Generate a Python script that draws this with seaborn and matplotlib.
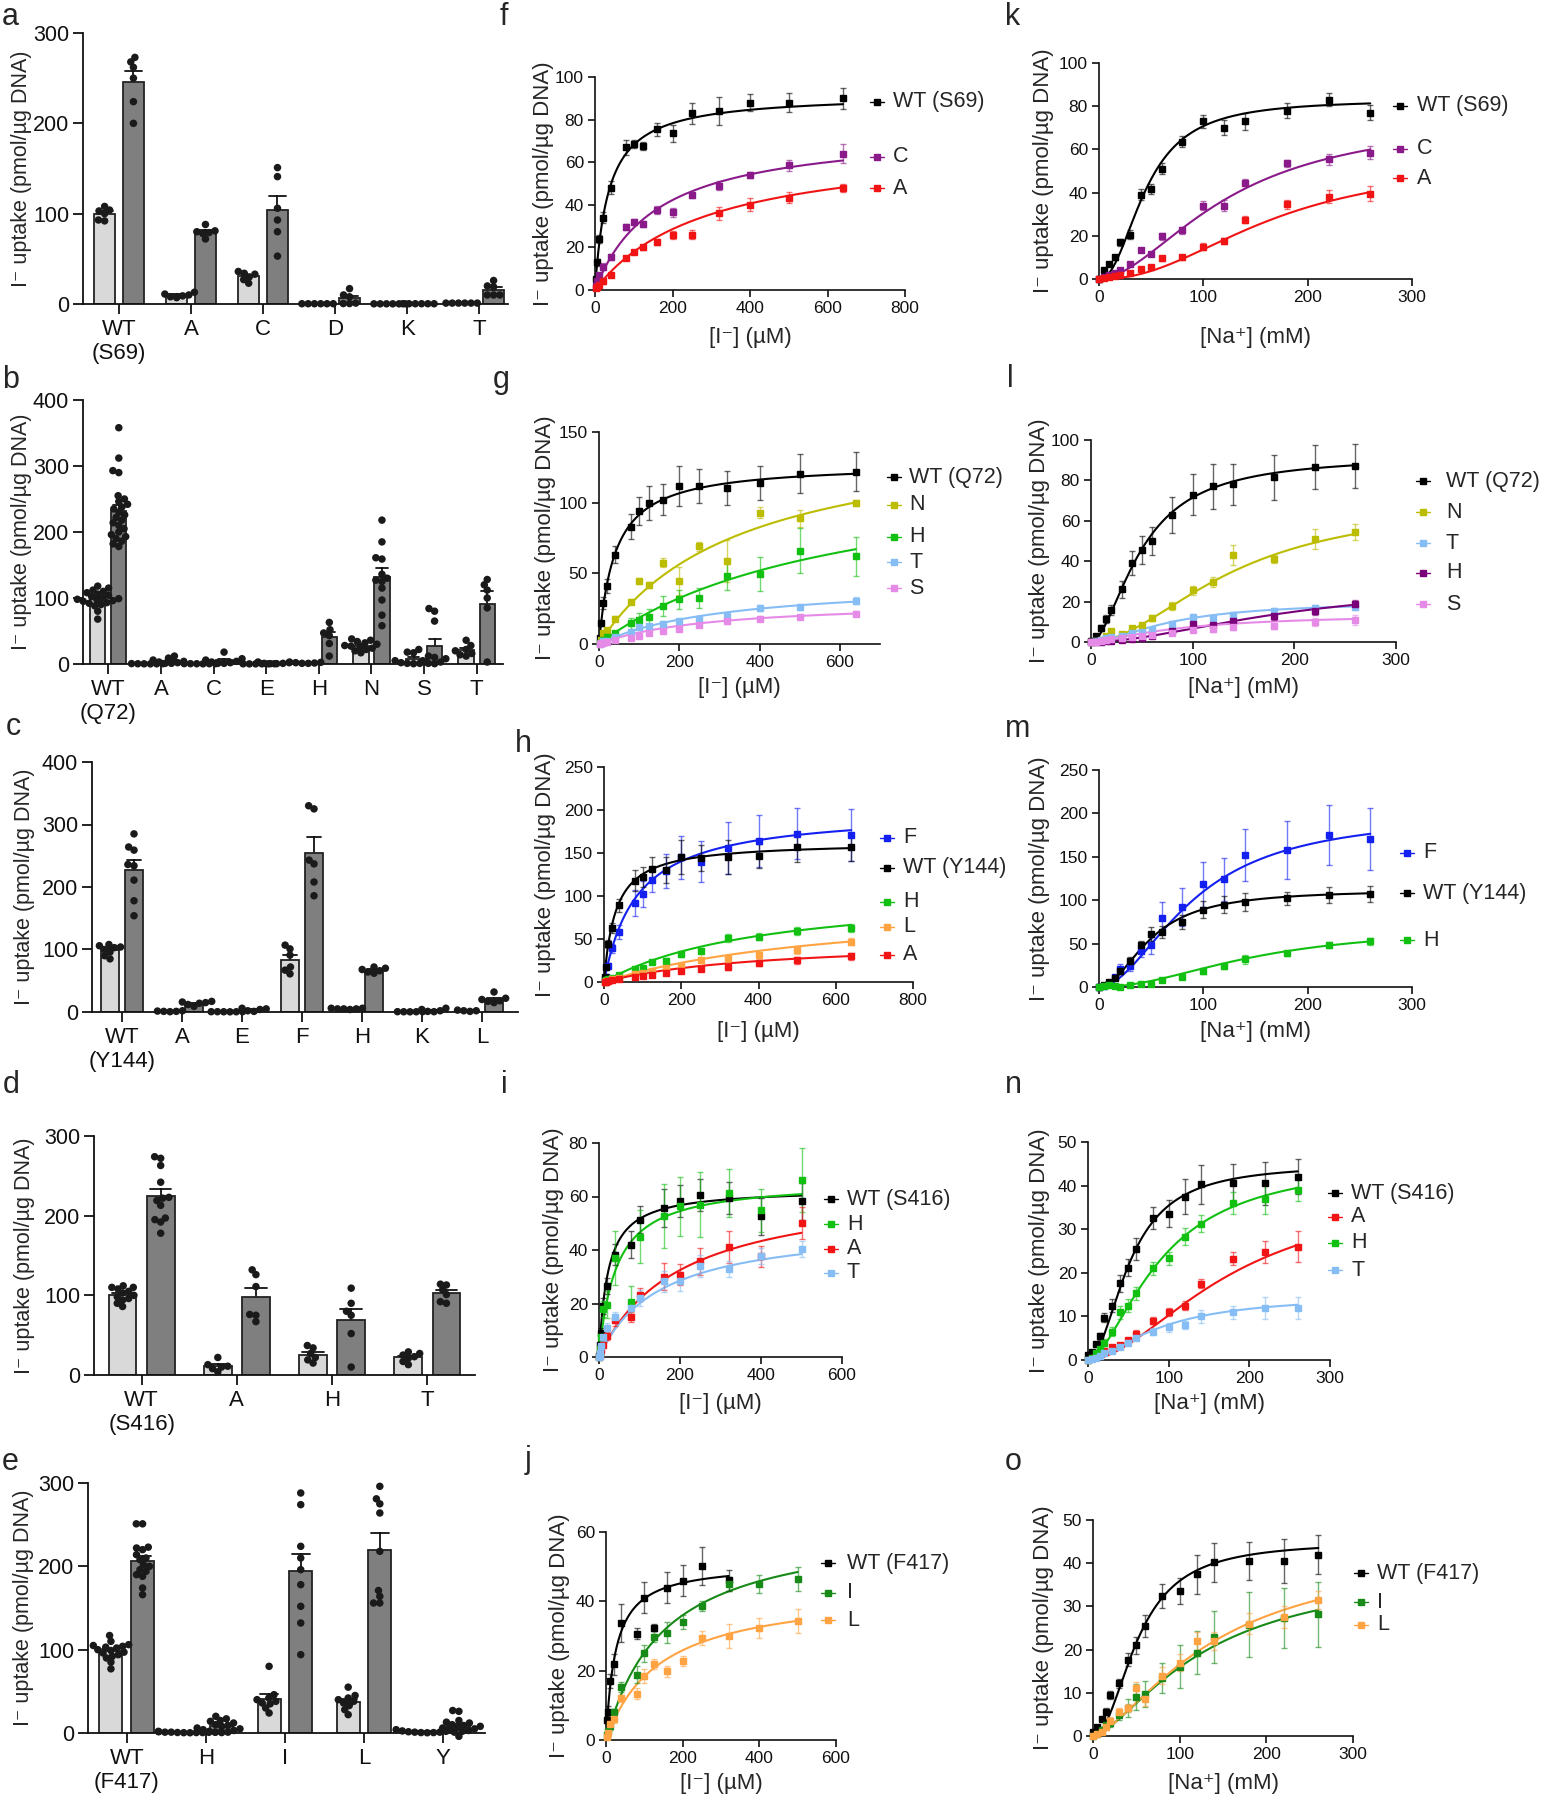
import warnings
import matplotlib
matplotlib.use('Agg')
import matplotlib.pyplot as plt
from matplotlib.colors import to_rgba
import numpy as np
import pandas as pd
import seaborn as sns

warnings.filterwarnings('ignore')

sns.set_theme(style='ticks')
plt.rcParams['font.family'] = ['Liberation Sans', 'DejaVu Sans']

YLAB = 'I\u207b uptake (pmol/\u00b5g DNA)'
XLAB_I = '[I\u207b] (\u00b5M)'
XLAB_NA = '[Na\u207a] (mM)'

LIGHT = '#d9d9d9'
DARK = '#7f7f7f'
BLACK = '#000000'
RED = '#f01414'
PURPLE = '#8a1a8a'
DKPURPLE = '#7a007a'
OLIVE = '#bcbc00'
GREEN = '#12c012'
SKY = '#86bdf5'
VIOLET = '#e68ae8'
BLUE = '#1420f0'
ORANGE = '#ffa343'
DKGREEN = '#178a17'

# ---------------- bar panels (a-e): individual dots per group ----------------
a_cats = ['WT\n(S69)', 'A', 'C', 'D', 'K', 'T']
a_light = [[108, 104, 103, 100, 92, 93], [7, 8, 9, 10, 11, 13], [36, 34, 33, 30, 27, 23],
           [0.3, 0.3, 0.3, 0.3, 0.3, 0.3], [0.2, 0.2, 0.2, 0.2, 0.2, 0.2], [1, 1, 1, 1, 1, 1]]
a_dark = [[273, 268, 262, 250, 224, 200], [88, 81, 80, 79, 78, 72], [151, 141, 106, 93, 80, 53],
          [17, 10, 8, 1, 0.5, 0.5], [0.3, 0.3, 0.3, 0.3, 0.3, 0.3], [26, 20, 19, 10, 10, 10]]

b_cats = ['WT\n(Q72)', 'A', 'C', 'E', 'H', 'N', 'S', 'T']
b_light = [[118, 115, 112, 110, 108, 106, 104, 102, 100, 99, 98, 97, 96, 95, 93, 92, 90, 88, 80, 68],
           [0.5, 0.3, 0.2, 0.4, 0.6, 0.3], [0.5, 0.4, 0.3, 0.5, 0.6, 0.4], [0.3, 0.3, 0.2, 0.4, 0.3, 0.2],
           [3, 2.5, 2, 1.5, 1, 1], [38, 36, 34, 32, 30, 28, 27, 26, 24, 22, 20, 17],
           [22, 18, 17, 5, 3, 2, 1, 1, 0.5], [36, 28, 22, 20, 16, 14, 12]]
b_dark = [[358, 312, 293, 290, 255, 250, 246, 242, 238, 235, 230, 226, 222, 218, 214, 210, 205, 200,
           196, 193, 190, 186, 182, 178],
          [12, 9, 6, 4, 3, 2, 1, 1], [18, 8, 6, 4, 3, 2, 1, 1], [3, 2, 1, 1, 0.5, 0.5],
          [63, 52, 47, 43, 31, 12], [218, 185, 161, 159, 136, 130, 127, 125, 115, 97, 74, 58],
          [84, 80, 65, 12, 10, 8, 5, 3, 1, 0.5], [128, 120, 112, 100, 85, 3]]

c_cats = ['WT\n(Y144)', 'A', 'E', 'F', 'H', 'K', 'L']
c_light = [[108, 106, 104, 103, 100, 96, 90, 85], [2, 1.5, 1, 1, 0.5], [0.5, 0.4, 0.5, 0.3, 0.4, 0.5],
           [107, 101, 91, 72, 67, 61], [6, 6, 5, 5, 5, 4], [0.5, 0.4, 0.5, 0.3, 0.4], [3, 2, 2, 1]]
c_dark = [[285, 264, 259, 236, 234, 211, 178, 154], [17, 16, 15, 14, 12, 9], [6, 5, 4, 2, 1],
          [330, 325, 243, 237, 208, 186], [72, 70, 68, 66, 64, 62], [6, 4, 2, 1, 0.5],
          [32, 22, 20, 18, 17, 15]]

d_cats = ['WT\n(S416)', 'A', 'H', 'T']
d_light = [[112, 110, 110, 108, 105, 103, 100, 98, 96, 94, 90, 86], [22, 13, 11, 10, 8, 4],
           [37, 34, 27, 22, 19, 15], [29, 27, 25, 23, 21, 17, 13]]
d_dark = [[274, 272, 263, 242, 223, 222, 219, 213, 197, 195, 192, 178], [132, 126, 111, 76, 75, 67],
          [109, 90, 80, 75, 52, 10], [114, 113, 107, 92, 90, 101]]

e_cats = ['WT\n(F417)', 'H', 'I', 'L', 'Y']
e_light = [[117, 110, 106, 105, 104, 103, 102, 100, 99, 97, 96, 94, 92, 90, 85, 77],
           [2, 1.5, 1.5, 1, 1, 1, 0.8, 0.6, 0.5, 0.5, 0.4, 0.3],
           [80, 46, 42, 40, 38, 36, 35, 30, 24], [55, 45, 42, 40, 38, 36, 33, 28, 22],
           [4, 3, 2.5, 2, 1.5, 1, 1, 0.5, 0.5, 0.3]]
e_dark = [[251, 251, 223, 222, 220, 214, 210, 208, 202, 200, 196, 194, 190, 188, 174, 166],
          [20, 17, 15, 14, 12, 10, 9, 8, 6, 5, 4, 3, 2, 1, 1, 0.5],
          [288, 274, 224, 210, 196, 178, 152, 132, 94], [296, 281, 275, 264, 218, 171, 164, 156, 156],
          [27, 26, 15, 13, 12, 10, 9, 8, 7, 6, 5, 4, 3, 2, 1, -4]]

# ---------------- kinetics: concentrations ----------------
I_CONC = [2.5, 5, 10, 20, 40, 80, 100, 125, 160, 200, 250, 320, 400, 500, 640]
I_CONC_I = [0, 1.25, 2.5, 5, 10, 20, 40, 80, 100, 160, 200, 250, 320, 400, 500]
I_CONC_J = [2.5, 5, 10, 20, 40, 80, 100, 125, 160, 200, 250, 320, 400, 500]
I_CONC_J_WT = [2.5, 5, 10, 20, 40, 80, 100, 125, 160, 200, 250, 320]
NA_CONC = [0, 5, 10, 15, 20, 30, 40, 50, 60, 80, 100, 120, 140, 180, 220, 260]

# f: iodide, S69
f_labels = ['WT (S69)', 'C', 'A']
f_colors = [BLACK, PURPLE, RED]
f_wt = [5, 13, 24, 34, 48, 67, 68.5, 67.5, 75.5, 73.5, 83, 84, 88, 88, 90]
f_wt_err = [1, 1.5, 2, 2.5, 3, 3.5, 2, 2, 3, 4, 5, 6.5, 4, 4.5, 5]
f_c = [2, 4, 7, 11, 15.5, 29.5, 32, 31, 37.5, 36.5, 44.5, 49, 54, 58.5, 64]
f_c_err = [0.5, 1, 1, 1.5, 1.5, 1.5, 1.5, 1.5, 2, 2, 1.5, 2, 1.5, 2.5, 4.5]
f_a = [1, 1.5, 2.5, 4, 7, 15, 18, 20, 22.5, 25.8, 26, 36, 40, 43.4, 48]
f_a_err = [0.3, 0.5, 0.5, 1, 1, 1, 1, 1, 1.5, 2, 2, 3, 3, 2.5, 2]
f_fit = [(92, 35), (76, 160), (70, 290)]

# g: iodide, Q72
g_labels = ['WT (Q72)', 'N', 'H', 'T', 'S']
g_colors = [BLACK, OLIVE, GREEN, SKY, VIOLET]
g_wt = [4, 14.6, 29, 41, 63, 83, 94, 100, 102, 111.6, 111.6, 110.7, 114, 120.5, 122]
g_wt_err = [1, 2, 4, 5, 6, 9, 10, 12, 11, 14, 12, 12, 12, 14, 14]
g_n = [1, 3, 7.5, 10, 18, 30, 44.5, 41.7, 57.5, 44.5, 69, 58.6, 92.8, 88.8, 99.8]
g_n_err = [0.5, 1, 1.5, 1.5, 2, 2, 2, 2, 3, 10, 3, 15, 4, 6, 2]
g_h = [0.5, 1, 2.5, 5, 7.5, 14.6, 17, 18.8, 27, 31.5, 32.5, 48, 49.4, 66, 62]
g_h_err = [0.3, 0.5, 1, 1, 1.5, 4, 5, 6, 7, 7, 7, 10, 12, 16, 14]
g_t = [0.3, 1, 2, 2, 5, 8.7, 12, 13, 14.5, 16, 18, 20, 25.4, 26, 30.6]
g_t_err = [0.3, 0.5, 0.5, 1, 1, 1.5, 1.5, 1.5, 1.5, 1.5, 1.5, 2, 2, 2, 2.5]
g_s = [0, 0.5, 1, 1.5, 3, 4.5, 6, 8, 9.5, 10.5, 13.5, 16, 18, 19, 21.5]
g_s_err = [0.2, 0.3, 0.5, 0.5, 1, 1, 1, 1, 1, 1, 1.5, 1.5, 1.5, 1.5, 1.5]
g_fit = [(128, 40), (155, 350), (130, 600), (45, 320), (31, 280)]

# h: iodide, Y144
h_labels = ['F', 'WT (Y144)', 'H', 'L', 'A']
h_colors = [BLUE, BLACK, GREEN, ORANGE, RED]
h_f = [3, 6, 19, 39, 58, 92, 102, 119, 129, 145, 140, 156, 164, 172.5, 171]
h_f_err = [1, 2, 3, 5, 8, 15, 15, 14, 20, 25, 24, 30, 30, 30, 30]
h_wt = [6, 17, 44, 63, 89, 118, 122, 131, 130, 145.5, 144.6, 145.5, 146, 157, 157]
h_wt_err = [2, 3, 5, 6, 8, 12, 12, 14, 15, 20, 15, 20, 14, 17, 16]
h_h = [1, 2, 3, 5, 8, 15.5, 16.5, 23.5, 25, 32, 36.5, 51, 52.5, 59.5, 63]
h_h_err = [0.5, 0.5, 1, 1, 1.5, 2, 2, 2, 2.5, 3, 3, 5, 4, 5, 5]
h_l = [0.5, 1, 1.5, 3, 5, 9, 10, 13, 16, 19, 26, 27.5, 31, 37, 47]
h_l_err = [0.3, 0.5, 0.5, 1, 1, 1.5, 1.5, 2, 2, 3, 8, 4, 4, 5, 4]
h_a = [0.3, 0.5, 1, 2, 3, 6, 7, 8.5, 10, 12.5, 15.5, 17.5, 22, 25.5, 30]
h_a_err = [0.2, 0.3, 0.3, 0.5, 1, 1, 1, 1, 1.5, 2, 2, 3, 3, 4, 4]
h_fit = [(200, 85), (163, 30), (110, 420), (95, 650), (50, 420)]

# i: iodide, S416
i_labels = ['WT (S416)', 'H', 'A', 'T']
i_colors = [BLACK, GREEN, RED, SKY]
i_wt = [0.2, 2, 4.6, 9, 19, 26.4, 38.3, 42, 51.3, 55.7, 58.2, 60.7, 59.4, 52.6, 58.2]
i_wt_err = [0.2, 0.5, 1, 2, 3, 3, 4, 5, 5, 7, 6, 6, 6, 7, 7]
i_h = [0, 1, 3, 7.5, 18, 19.5, 37, 20.5, 45, 52.6, 56.3, 57, 61.3, 54.8, 66.3]
i_h_err = [0.2, 0.5, 1, 1.5, 3, 5, 10, 6, 10, 12, 11, 12, 9, 8, 12]
i_a = [0, 0.5, 1, 2.5, 4.6, 7.7, 13.7, 15, 23.3, 30, 30.8, 35.8, 41, 37.6, 50]
i_a_err = [0.2, 0.3, 0.5, 0.5, 1, 1.5, 2, 2, 2.5, 5, 4, 5, 6, 4, 6]
i_t = [0, 0.5, 1.5, 4, 7.5, 10.8, 15, 18.3, 22, 28.3, 28.3, 34, 33, 37.6, 40.4]
i_t_err = [0.2, 0.3, 0.5, 1, 1.5, 2, 2, 3, 3, 4, 3.5, 4, 3, 3, 3]
i_fit = [(63, 22), (66, 42), (65, 200), (50, 150)]

# j: iodide, F417
j_labels = ['WT (F417)', 'I', 'L']
j_colors = [BLACK, DKGREEN, ORANGE]
j_wt = [5.8, 8.2, 17, 21.8, 33.8, 30.7, 41, 32.4, 43.9, 45.9, 50.3, 46.1]
j_wt_err = [1, 1.5, 2, 3, 5.5, 1.5, 4.5, 1, 4.5, 4.5, 5.5, 3]
j_i = [1.5, 2.5, 4, 8, 15.3, 18.8, 25, 29.8, 31, 34, 38.7, 45, 45, 46.5]
j_i_err = [0.5, 0.5, 1, 1, 1.5, 2.5, 2.5, 1.5, 3, 2, 1.5, 2, 2.5, 3.5]
j_l = [1, 2, 4.5, 6, 12, 13.4, 18.5, 22, 19.8, 22.8, 29.5, 30, 32.3, 34.3]
j_l_err = [0.3, 0.5, 1, 1, 1, 1.5, 2, 1.5, 1.5, 1.5, 2, 3.5, 3, 3.5]
j_fit = [(51, 25), (63, 150), (44, 140)]

# k: sodium, S69
k_labels = ['WT (S69)', 'C', 'A']
k_colors = [BLACK, PURPLE, RED]
k_wt = [0, 4, 7, 10, 17, 20.5, 39, 41.7, 51, 63.5, 73, 70, 73, 78, 83, 77]
k_wt_err = [0.5, 1, 1, 1, 1.5, 2, 2.5, 2.5, 2.5, 2.5, 3, 3.5, 4, 3.5, 3, 3.5]
k_c = [0, 1, 2, 3, 4, 7, 13.5, 11.7, 19.7, 22.5, 34, 34, 44.6, 53.5, 55.4, 58.5]
k_c_err = [0.3, 0.5, 0.5, 0.5, 0.8, 1, 1, 1, 1.5, 1.5, 2, 2.5, 1.5, 1.5, 2.5, 3]
k_a = [0, 0.5, 1, 1.5, 2, 3, 4.5, 5.5, 9.5, 10, 15, 17.5, 27.5, 34.5, 38, 39.5]
k_a_err = [0.2, 0.3, 0.3, 0.5, 0.5, 0.8, 0.8, 0.8, 1, 1.2, 1.5, 1.5, 1.5, 2, 3, 3.5]
k_fit = [(83, 45, 2.2), (76, 125, 1.8), (55, 165, 2.2)]

# l: sodium, Q72
l_labels = ['WT (Q72)', 'N', 'T', 'H', 'S']
l_colors = [BLACK, OLIVE, SKY, DKPURPLE, VIOLET]
l_wt = [0.5, 3, 7, 11.4, 16, 26, 39, 45.6, 50, 63, 73, 77, 78, 81.5, 86.5, 87]
l_wt_err = [0.5, 1, 1.5, 2, 2.5, 4, 6, 7, 7, 9, 10, 11, 10, 11, 11, 11]
l_n = [0, 0.5, 1, 3, 5.5, 4, 7, 8.5, 12, 18, 25.5, 29.5, 43, 41, 51, 54.5]
l_n_err = [0.2, 0.3, 0.5, 1, 1, 1, 1, 1, 1.5, 2, 2, 2.5, 5, 2, 5, 4]
l_t = [0, 0.5, 1, 2, 2.5, 3, 4.5, 5, 6, 9, 12.5, 12, 13.5, 15.5, 17, 17.5]
l_t_err = [0.2, 0.3, 0.3, 0.5, 0.5, 0.5, 0.8, 0.8, 1, 1.5, 1.5, 1.5, 1.5, 1.5, 1.5, 1.5]
l_h = [0, 0, 0, 0.3, 0.5, 1, 1.5, 2, 3, 5.5, 9, 8.5, 10.5, 13, 15.5, 19]
l_h_err = [0.1, 0.1, 0.2, 0.2, 0.3, 0.3, 0.5, 0.5, 0.8, 1, 1.5, 1.5, 1.5, 2, 2, 2]
l_s = [0, 0.2, 0.5, 1, 1.5, 2, 2.5, 3, 3.5, 4.5, 6, 6.5, 7.5, 8, 10, 11]
l_s_err = [0.1, 0.2, 0.3, 0.3, 0.5, 0.5, 0.5, 0.5, 0.8, 1, 1, 1.5, 1.5, 1.5, 2, 2.5]
l_fit = [(92, 50, 1.8), (70, 140, 1.9), (20, 80, 1.7), (30, 200, 1.8), (14, 90, 1.4)]

# m: sodium, Y144
m_labels = ['F', 'WT (Y144)', 'H']
m_colors = [BLUE, BLACK, GREEN]
m_f = [0, 1, 4, 11, 21, 24, 42, 48, 79.6, 92, 118.5, 124, 152, 157.7, 175, 170.4]
m_f_err = [0.5, 1, 2, 3, 5, 6, 8, 10, 18, 22, 26, 25, 30, 33, 35, 36]
m_wt = [0, 2, 6, 10, 18, 30, 48, 61, 63, 75, 89, 95, 98, 102, 106, 107]
m_wt_err = [0.5, 1, 1.5, 2, 3, 4, 5, 8, 7, 8, 10, 10, 10, 8, 9, 9]
m_h = [0, 1, 2, 1.5, 0.5, 2, 3, 3, 8, 12, 18, 24, 32, 39, 48.5, 52.5]
m_h_err = [0.3, 0.5, 0.5, 0.5, 0.5, 0.5, 1, 1, 1.5, 2, 3, 3, 5, 3, 3, 4]
m_fit = [(200, 90, 1.9), (112, 50, 2), (70, 150, 2)]

# n: sodium, S416
n_labels = ['WT (S416)', 'A', 'H', 'T']
n_colors = [BLACK, RED, GREEN, SKY]
n_wt = [1.1, 1.9, 3.6, 5.5, 9.7, 12.4, 17.6, 21.2, 25.4, 32.6, 33.6, 37.4, 40.3, 40.5, 40.5, 42]
n_wt_err = [0.3, 0.5, 0.5, 0.8, 1, 1.5, 2, 2, 2.5, 2.5, 3, 4, 4.5, 4.5, 5, 4]
n_a = [0, 0.5, 1, 1.5, 2, 3, 3.5, 4.5, 6, 9, 11, 12.5, 17.5, 23.2, 24.8, 26]
n_a_err = [0.2, 0.2, 0.3, 0.3, 0.5, 0.5, 0.5, 0.5, 0.8, 0.8, 1, 1, 1, 1.5, 2.5, 3.5]
n_h = [0, 0.5, 1.5, 2.5, 4, 6.5, 11, 12.5, 15.3, 21, 23.3, 28.3, 31.3, 36, 37, 39]
n_h_err = [0.2, 0.3, 0.5, 0.5, 0.8, 1, 1.5, 1.5, 1.5, 1.5, 1.5, 2, 2, 2.5, 3.5, 2.5]
n_t = [0, 0.3, 0.5, 1, 1.5, 2, 3, 4, 5, 6.5, 7.5, 8, 10, 11, 12, 12]
n_t_err = [0.1, 0.1, 0.2, 0.3, 0.3, 0.3, 0.5, 0.5, 0.5, 0.8, 1, 1, 1.5, 1.5, 2.5, 2.5]
n_fit = [(45, 52, 2), (40, 180, 1.8), (46, 90, 1.7), (15, 90, 1.6)]

# o: sodium, F417
o_labels = ['WT (F417)', 'I', 'L']
o_colors = [BLACK, DKGREEN, ORANGE]
o_wt = [1, 2, 3.9, 5.6, 9.5, 12.2, 17.6, 21, 25.5, 32.5, 33.6, 37.4, 40.2, 40.5, 40.5, 42]
o_wt_err = [0.3, 0.5, 0.5, 0.8, 1, 1, 1.5, 2, 2.5, 2.8, 3, 4.5, 4.5, 4.5, 5, 4.5]
o_i = [0, 0.5, 1.5, 2.5, 3, 4.8, 6.5, 9, 9.8, 13.5, 16, 19.3, 23, 25.8, 27.3, 28.2]
o_i_err = [0.2, 0.3, 0.5, 0.5, 1, 1, 2, 3, 3, 3.5, 5, 5, 6, 7.5, 7, 7.5]
o_l = [0, 0.5, 1, 2, 3.5, 5.5, 6.5, 11, 8.5, 14, 17, 22, 22, 26, 27.5, 31.5]
o_l_err = [0.2, 0.3, 0.5, 0.5, 0.8, 1, 1, 1.5, 1.5, 2, 2, 2, 2, 2.5, 2.5, 2]
o_fit = [(45, 52, 2.1), (39.5, 130, 1.5), (44, 140, 1.5)]


W, H = 1541, 1800
fig = plt.figure(figsize=(W / 100, H / 100), dpi=100)
swarm_colls = []


def add_ax(x0, y0, x1, y1):
    return fig.add_axes([x0 / W, 1 - y1 / H, (x1 - x0) / W, (y1 - y0) / H])


def mm(x, vmax, km):
    return vmax * x / (km + x)


def hill(x, vmax, k, n):
    return vmax * x ** n / (k ** n + x ** n)


def style_axes(ax, box, ylab_x, lw, ticklen, labsize, ylab_size=16):
    x0, y0, x1, y1 = box
    sns.despine(ax=ax)
    for s in ['left', 'bottom']:
        ax.spines[s].set_linewidth(lw)
        ax.spines[s].set_color('#111')
    ax.tick_params(direction='out', length=ticklen, width=lw, labelsize=labsize, colors='#111', pad=3)
    ax.set_ylabel(YLAB, fontsize=ylab_size)
    ax.yaxis.set_label_coords((ylab_x - x0) / (x1 - x0), 0.5)
    ax.yaxis.label.set_va('center')


def bar_panel(box, xlim, cats, light, dark, ymax, ystep, ylab_x):
    ax = add_ax(*box)
    rows = []
    for c, lv, dv in zip(cats, light, dark):
        rows += [(c, 'light', v) for v in lv]
        rows += [(c, 'dark', v) for v in dv]
    df = pd.DataFrame(rows, columns=['cat', 'cond', 'val'])
    sns.barplot(data=df, x='cat', y='val', hue='cond', order=cats, hue_order=['light', 'dark'],
                palette=[LIGHT, DARK], errorbar='se', capsize=0.45, gap=0.27,
                err_kws={'color': '#111', 'linewidth': 1.3, 'zorder': 0.5},
                edgecolor='#222', linewidth=1.3, legend=False, ax=ax)
    n0 = len(ax.collections)
    # swarm laid out with slightly smaller dots so the cloud stays near the bars
    sns.swarmplot(data=df, x='cat', y='val', hue='cond', order=cats, hue_order=['light', 'dark'],
                  dodge=True, palette=['k', 'k'], size=4.3, legend=False, ax=ax, zorder=3)
    for coll in ax.collections[n0:]:
        coll.set_clip_on(False)
        swarm_colls.append(coll)
    ax.set_xlim(*xlim)
    ax.set_ylim(0, ymax)
    ax.set_yticks(np.arange(0, ymax + 1, ystep))
    ax.set_xlabel('')
    style_axes(ax, box, ylab_x, 1.3, 7, 15.5, ylab_size=15.5)
    ax.tick_params(axis='x', labelsize=16, pad=4)
    return ax


def kin_panel(box, xs, ys, errs, fits, colors, labels, model, xlim, xstep, ymax, ystep,
              xlabel, ylab_x, xlab_y, leg_mx, leg_tx, leg_ys):
    x0, y0, x1, y1 = box
    ax = add_ax(*box)
    for x, y, e, p, c in zip(xs, ys, errs, fits, colors):
        xx = np.linspace(0, max(x), 300)
        sns.lineplot(x=xx, y=model(xx, *p), color=c, linewidth=1.5, ax=ax, zorder=2)
        ax.errorbar(x, y, yerr=e, fmt='s', ms=4.5, color=c, ecolor=to_rgba(c, 0.6),
                    elinewidth=1, capsize=2.5, capthick=1, zorder=3, clip_on=False)
    ax.set_xlim(*xlim)
    ax.set_ylim(0, ymax)
    ax.set_xticks(np.arange(0, xlim[1] + 1, xstep))
    ax.set_yticks(np.arange(0, ymax + 0.01, ystep))
    style_axes(ax, box, ylab_x, 1.2, 5, 12.5)
    ax.set_xlabel(xlabel, fontsize=16)
    ax.xaxis.set_label_coords(0.5, (y1 - xlab_y) / (y1 - y0))
    ax.xaxis.label.set_va('center')
    for yy, lab, c in zip(leg_ys, labels, colors):
        fy = 1 - yy / H
        ax.plot([(leg_mx - 7) / W, (leg_mx + 7) / W], [fy, fy], color=c, lw=1,
                transform=fig.transFigure, clip_on=False)
        ax.plot([leg_mx / W], [fy], marker='s', ms=5, color=c, transform=fig.transFigure,
                clip_on=False)
        ax.text(leg_tx / W, fy, lab, transform=fig.transFigure, ha='left', va='center',
                fontsize=15.5)
    ax.set_xlim(*xlim)
    ax.set_ylim(0, ymax)
    return ax


# left column
bar_panel((83, 33, 508, 304), (-0.5, 5.4), a_cats, a_light, a_dark, 300, 100, 22)
bar_panel((83, 400, 503, 664), (-0.48, 7.5), b_cats, b_light, b_dark, 400, 100, 22)
bar_panel((92, 762, 518, 1012), (-0.5, 6.6), c_cats, c_light, c_dark, 400, 100, 25)
bar_panel((94, 1136, 475, 1375), (-0.5, 3.5), d_cats, d_light, d_dark, 300, 100, 25)
bar_panel((88, 1483, 485, 1733), (-0.49, 4.53), e_cats, e_light, e_dark, 300, 100, 24)

# middle column (iodide)
kin_panel((595, 77, 905, 290), [I_CONC] * 3, [f_wt, f_c, f_a], [f_wt_err, f_c_err, f_a_err],
          f_fit, f_colors, f_labels, mm, (0, 800), 200, 100, 20, XLAB_I, 543, 337,
          877, 893, [102, 157, 188])
kin_panel((599, 432, 880, 644), [I_CONC] * 5, [g_wt, g_n, g_h, g_t, g_s],
          [g_wt_err, g_n_err, g_h_err, g_t_err, g_s_err], g_fit, g_colors, g_labels, mm,
          (0, 700), 200, 150, 50, XLAB_I, 546, 688, 894, 909, [477, 505, 537, 562, 588])
kin_panel((604, 767, 913, 982), [I_CONC] * 5, [h_f, h_wt, h_h, h_l, h_a],
          [h_f_err, h_wt_err, h_h_err, h_l_err, h_a_err], h_fit, h_colors, h_labels, mm,
          (0, 800), 200, 250, 50, XLAB_I, 546, 1032, 887, 903, [838, 868, 902, 927, 955])
kin_panel((599, 1143, 842, 1357), [I_CONC_I] * 4, [i_wt, i_h, i_a, i_t],
          [i_wt_err, i_h_err, i_a_err, i_t_err], i_fit, i_colors, i_labels, mm,
          (0, 600), 200, 80, 20, XLAB_I, 553, 1403, 831, 847, [1199, 1224, 1249, 1273])
kin_panel((606, 1532, 836, 1740), [I_CONC_J_WT, I_CONC_J, I_CONC_J], [j_wt, j_i, j_l],
          [j_wt_err, j_i_err, j_l_err], j_fit, j_colors, j_labels, mm,
          (0, 600), 200, 60, 20, XLAB_I, 559, 1783, 828, 847, [1563, 1593, 1620])

# right column (sodium)
kin_panel((1099, 63, 1412, 279), [NA_CONC] * 3, [k_wt, k_c, k_a], [k_wt_err, k_c_err, k_a_err],
          k_fit, k_colors, k_labels, hill, (0, 300), 100, 100, 20, XLAB_NA, 1044, 337,
          1400, 1417, [106, 149, 178])
kin_panel((1091, 440, 1396, 642), [NA_CONC] * 5, [l_wt, l_n, l_t, l_h, l_s],
          [l_wt_err, l_n_err, l_t_err, l_h_err, l_s_err], l_fit, l_colors, l_labels, hill,
          (0, 300), 100, 100, 20, XLAB_NA, 1040, 688, 1423, 1446, [481, 512, 543, 573, 604])
kin_panel((1099, 770, 1412, 987), [NA_CONC] * 3, [m_f, m_wt, m_h], [m_f_err, m_wt_err, m_h_err],
          m_fit, m_colors, m_labels, hill, (0, 300), 100, 250, 50, XLAB_NA, 1040, 1032,
          1407, 1423, [853, 893, 940])
kin_panel((1088, 1142, 1330, 1360), [NA_CONC] * 4, [n_wt, n_a, n_h, n_t],
          [n_wt_err, n_a_err, n_h_err, n_t_err], n_fit, n_colors, n_labels, hill,
          (0, 300), 100, 50, 10, XLAB_NA, 1040, 1403, 1335, 1351, [1193, 1217, 1243, 1270])
kin_panel((1093, 1520, 1353, 1736), [NA_CONC] * 3, [o_wt, o_i, o_l], [o_wt_err, o_i_err, o_l_err],
          o_fit, o_colors, o_labels, hill, (0, 300), 100, 50, 10, XLAB_NA, 1044, 1783,
          1361, 1377, [1573, 1602, 1625])

# panel letters
letters = ['a', 'b', 'c', 'd', 'e', 'f', 'g', 'h', 'i', 'j', 'k', 'l', 'm', 'n', 'o']
letter_x = [2, 2, 6, 3, 2, 500, 493, 515, 501, 525, 1005, 1007, 1005, 1005, 1005]
letter_y = [25, 388, 735, 1093, 1470, 25, 388, 752, 1093, 1468, 25, 387, 737, 1093, 1470]
for t, lx, ly in zip(letters, letter_x, letter_y):
    fig.text(lx / W, 1 - ly / H, t, fontsize=22, ha='left', va='baseline')

# lay out the swarms once, then freeze them and draw the dots at full size
fig.canvas.draw()
for coll in swarm_colls:
    if 'draw' in coll.__dict__:
        del coll.draw
    coll.set_sizes([5.4 ** 2])

fig.savefig('out.png', dpi=100)
